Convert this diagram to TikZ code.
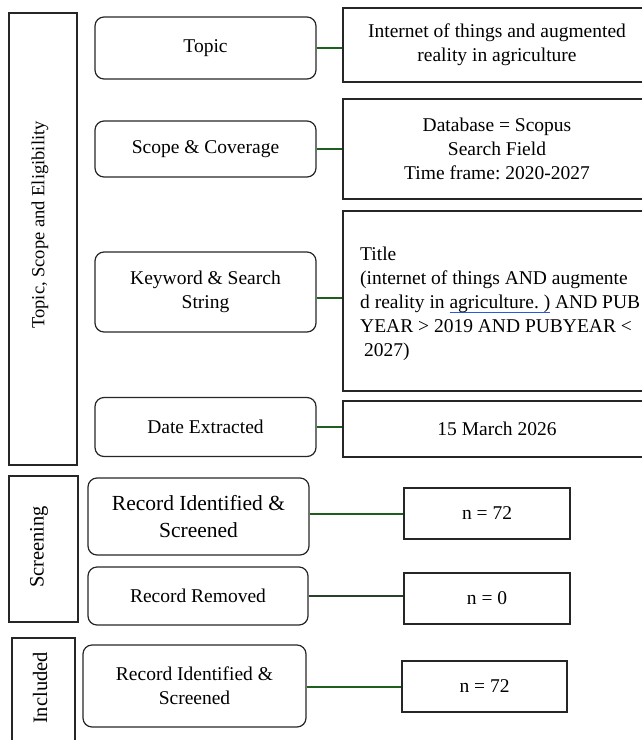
\documentclass[tikz,border=0pt]{standalone}
\usepackage{fontspec}
\setmainfont{Liberation Serif}
\frenchspacing
\definecolor{conngreen}{RGB}{30,95,30}
\definecolor{conndark}{RGB}{40,65,40}
\definecolor{ulblue}{RGB}{40,90,220}
\newcommand\bluline[1]{\setbox0\hbox{#1}\rlap{\textcolor{ulblue}{\rule[-4pt]{\wd0}{0.9pt}}}\box0\relax}
\begin{document}
\begin{tikzpicture}[x=1pt,y=-1pt,
  every node/.style={font=\fontsize{19.5}{24}\selectfont, inner sep=0pt, align=center},
  phase/.style={draw=black!85, line width=1.2pt},
  stepbox/.style={draw=black!85, line width=1.2pt, rounded corners=9pt},
  info/.style={draw=black!85, line width=1.2pt},
  conn/.style={draw=conngreen, line width=1.1pt},
  vlabel/.style={rotate=90}]
\useasboundingbox (0,0) rectangle (642,740);
\clip (0,0) rectangle (642,740);
% phase boxes
\node[phase, minimum width=68pt, minimum height=452pt] (ph1) at (43,239) {};
\node[vlabel, font=\fontsize{18.5}{22}\selectfont] (ph1t) at (40,225) {Topic, Scope and Eligibility};
\node[phase, minimum width=69pt, minimum height=146pt] (ph2) at (43.5,549) {};
\node[vlabel, font=\fontsize{20.5}{24}\selectfont] (ph2t) at (39,547) {Screening};
\node[phase, minimum width=63pt, minimum height=114pt] (ph3) at (43.5,695) {};
\node[vlabel, font=\fontsize{20.5}{24}\selectfont] (ph3t) at (40,688) {Included};
% left step boxes
\node[stepbox, minimum width=221pt, minimum height=62pt] (topic) at (205.5,48) {Topic};
\node[stepbox, minimum width=221pt, minimum height=56pt] (scope) at (205.5,149) {Scope \& Coverage};
\node[stepbox, minimum width=221pt, minimum height=80pt] (kw) at (205.5,292) {Keyword \& Search\\String};
\node[stepbox, minimum width=221pt, minimum height=59pt] (date) at (205.5,427) {Date Extracted};
\node[stepbox, minimum width=221pt, minimum height=77pt, font=\fontsize{21.5}{27}\selectfont] (ri1) at (198.5,516.5) {Record Identified \&\\Screened};
\node[stepbox, minimum width=220pt, minimum height=58pt] (rr) at (198,596) {Record Removed};
\node[stepbox, minimum width=223pt, minimum height=82pt] (ri2) at (194.5,686) {Record Identified \&\\Screened};
% right info boxes
\node[info, minimum width=308pt, minimum height=74pt] (r1) at (497,45) {Internet of things and augmented\\reality in agriculture};
\node[info, minimum width=308pt, minimum height=100pt] (r2) at (497,149) {Database = Scopus\\Search Field\\Time frame: 2020-2027};
\node[info, minimum width=308pt, minimum height=180pt] (r3) at (497,301) {};
\node[anchor=north west, align=left] (r3t) at (360,247) {Title\\(internet of things AND augmente\\d reality in \bluline{agriculture. )} AND PUB\\YEAR > 2019 AND PUBYEAR <\\\hspace{4pt}2027)};
\node[info, minimum width=308pt, minimum height=56pt] (r4) at (497,429) {15 March 2026};
\node[info, minimum width=166pt, minimum height=51pt] (n1) at (487,513.5) {n = 72};
\node[info, minimum width=166pt, minimum height=51pt] (n2) at (487,598.5) {n = 0};
\node[info, minimum width=165pt, minimum height=51pt] (n3) at (484.5,686.5) {n = 72};
% connectors
\draw[conn] (topic.east) -- (topic.east -| r1.west);
\draw[conn] (scope.east) -- (scope.east -| r2.west);
\draw[conn] (kw.east) ++(0,6) coordinate (kwc) -- (kwc -| r3.west);
\draw[conn] (date.east) -- (date.east -| r4.west);
\draw[conn] (ri1.east) ++(0,-2.5) coordinate (ri1c) -- (ri1c -| n1.west);
\draw[conn, draw=conndark] (rr.east) -- (rr.east -| n2.west);
\draw[conn] (ri2.east) ++(0,1) coordinate (ri2c) -- (ri2c -| n3.west);
\end{tikzpicture}
\end{document}
